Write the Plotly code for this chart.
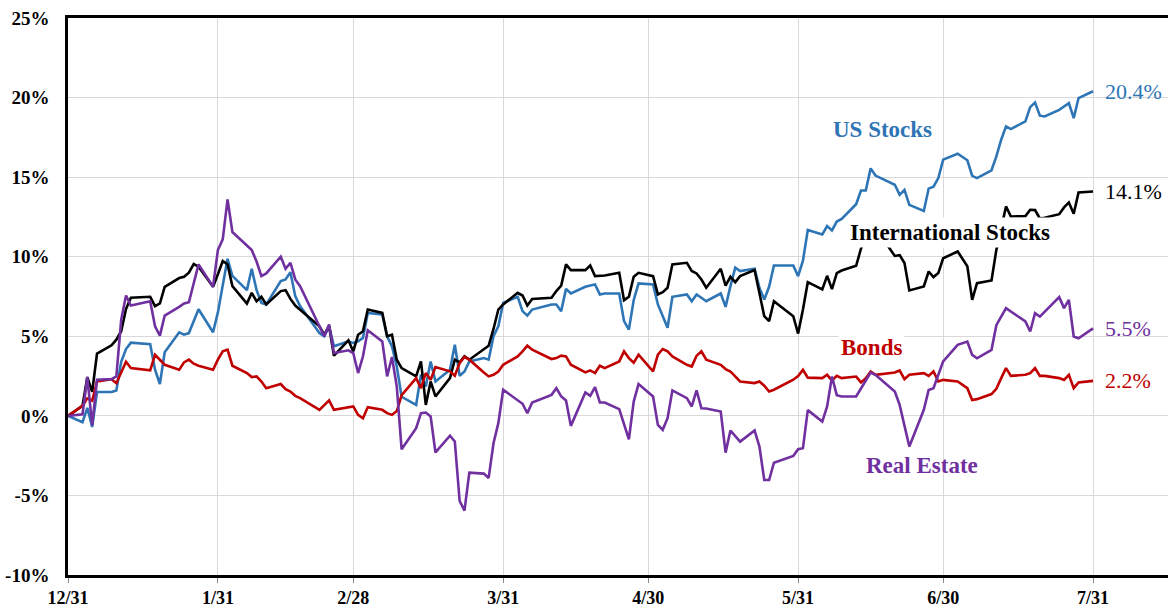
import plotly.graph_objects as go

dates = ["2022-12-31",
    "2023-01-03","2023-01-04","2023-01-05","2023-01-06","2023-01-09","2023-01-10","2023-01-11","2023-01-12","2023-01-13",
    "2023-01-17","2023-01-18","2023-01-19","2023-01-20","2023-01-23","2023-01-24","2023-01-25","2023-01-26","2023-01-27",
    "2023-01-30","2023-01-31",
    "2023-02-01","2023-02-02","2023-02-03","2023-02-06","2023-02-07","2023-02-08","2023-02-09","2023-02-10","2023-02-13",
    "2023-02-14","2023-02-15","2023-02-16","2023-02-17","2023-02-21","2023-02-22","2023-02-23","2023-02-24","2023-02-27",
    "2023-02-28",
    "2023-03-01","2023-03-02","2023-03-03","2023-03-06","2023-03-07","2023-03-08","2023-03-09","2023-03-10","2023-03-13",
    "2023-03-14","2023-03-15","2023-03-16","2023-03-17","2023-03-20","2023-03-21","2023-03-22","2023-03-23","2023-03-24",
    "2023-03-27","2023-03-28","2023-03-29","2023-03-30","2023-03-31",
    "2023-04-03","2023-04-04","2023-04-05","2023-04-06","2023-04-10","2023-04-11","2023-04-12","2023-04-13","2023-04-14",
    "2023-04-17","2023-04-18","2023-04-19","2023-04-20","2023-04-21","2023-04-24","2023-04-25","2023-04-26","2023-04-27",
    "2023-04-28",
    "2023-05-01","2023-05-02","2023-05-03","2023-05-04","2023-05-05","2023-05-08","2023-05-09","2023-05-10","2023-05-11",
    "2023-05-12","2023-05-15","2023-05-16","2023-05-17","2023-05-18","2023-05-19","2023-05-22","2023-05-23","2023-05-24",
    "2023-05-25","2023-05-26","2023-05-30","2023-05-31",
    "2023-06-01","2023-06-02","2023-06-05","2023-06-06","2023-06-07","2023-06-08","2023-06-09","2023-06-12","2023-06-13",
    "2023-06-14","2023-06-15","2023-06-16","2023-06-20","2023-06-21","2023-06-22","2023-06-23","2023-06-26","2023-06-27",
    "2023-06-28","2023-06-29","2023-06-30",
    "2023-07-03","2023-07-05","2023-07-06","2023-07-07","2023-07-10","2023-07-11","2023-07-12","2023-07-13","2023-07-14",
    "2023-07-17","2023-07-18","2023-07-19","2023-07-20","2023-07-21","2023-07-24","2023-07-25","2023-07-26","2023-07-27",
    "2023-07-28","2023-07-31"]

us_stocks = [0,
    -0.4, 0.5, -0.7, 1.5, 1.5, 1.6, 3.4, 4.2, 4.6, 4.5, 2.9, 2.0, 4.0, 5.25, 5.1, 5.2, 5.9, 6.7, 5.25, 6.5,
    8.2, 9.87, 8.8, 7.9, 9.24, 7.9, 7.1, 7.0, 8.47, 8.57, 9.03, 7.52, 6.9, 5.21, 5.0, 5.63, 4.37, 4.68, 4.58,
    4.68, 4.9, 6.47, 6.37, 5.0, 4.37, 3.1, 1.2, 0.69, 2.6, 1.85, 3.42, 2.16, 2.9, 4.47, 2.52, 2.79, 3.42, 3.63, 3.53,
    5.0, 5.63, 7.1,
    7.48, 6.58, 6.3, 6.68, 7.0, 7.0, 6.58, 7.98, 7.69, 8.11, 8.19, 8.26, 7.63, 7.69, 7.69, 5.95, 5.42, 7.27, 8.32,
    8.26, 7.0, 6.22, 5.53, 7.48, 7.63, 7.2, 7.63, 7.42, 7.2, 7.69, 6.85, 8.15, 9.31, 9.1, 9.24, 8.05, 7.31, 8.11,
    9.45, 9.45, 8.78,
    9.75, 11.68, 11.4, 11.93, 11.65, 12.21, 12.38, 13.3, 14.16, 14.16, 15.55, 15.1, 14.52, 13.89, 14.2, 13.26, 12.87,
    14.28, 14.4, 14.94, 16.1,
    16.47, 16.06, 15.08, 14.94, 15.43, 16.3, 17.35, 18.19, 18.02, 18.5, 19.4, 19.69, 18.86, 18.81, 19.23, 19.44, 19.65,
    18.71, 19.97, 20.4]

intl_stocks = [0,
    0.63, 2.44, 1.51, 3.91, 4.43, 4.79, 5.32, 6.72, 7.42, 7.48, 6.89, 7.06, 8.11, 8.66, 8.74, 9.0, 9.54, 9.37, 8.11, 8.9,
    9.73, 9.52, 8.15, 7.06, 7.73, 7.2, 7.48, 7.0, 7.84, 7.9, 7.35, 6.93, 6.68, 5.63, 5.1, 5.63, 3.78, 4.75, 4.05,
    5.1, 5.32, 6.68, 6.47, 5.0, 5.1, 3.53, 3.0, 2.48, 3.42, 0.69, 2.16, 1.22, 2.37, 3.53, 3.36, 3.74, 3.53, 4.16, 4.41,
    5.46, 6.68, 7.0,
    7.73, 7.56, 6.93, 7.35, 7.42, 7.84, 8.19, 9.52, 9.16, 9.16, 9.45, 8.78, 8.78, 8.82, 8.99, 7.27, 7.48, 8.74, 8.99,
    8.78, 7.63, 7.77, 8.05, 9.52, 9.62, 9.1, 8.95, 8.57, 8.05, 9.24, 8.19, 8.74, 8.4, 8.78, 9.16, 7.63, 6.26, 5.95,
    7.2, 6.26, 5.17,
    6.68, 8.4, 7.94, 8.8, 7.96, 8.97, 9.13, 9.43, 10.5, 11.2, 11.6, 11.8, 10.05, 10.1, 9.6, 7.88, 8.13, 9.07, 8.72,
    8.97, 9.9,
    10.33, 9.4, 7.29, 8.34, 8.51, 10.43, 11.8, 13.16, 12.53, 12.55, 12.95, 12.93, 12.4, 12.45, 12.67, 13.1, 13.41,
    12.7, 14.04, 14.1]

bonds = [0,
    0.63, 1.1, 0.95, 2.16, 2.3, 2.05, 2.69, 3.4, 3.0, 2.86, 3.84, 3.53, 3.21, 2.9, 3.36, 3.53, 3.28, 3.15, 2.9, 3.53,
    4.05, 4.16, 3.15, 2.69, 2.44, 2.48, 2.16, 1.74, 2.0, 1.68, 1.53, 1.26, 1.11, 0.38, 0.69, 0.97, 0.38, 0.53, 0.59,
    0.06, -0.15, 0.55, 0.38, 0.17, 0.06, 0.3, 1.3, 2.37, 1.74, 2.69, 2.27, 3.07, 2.8, 2.52, 3.32, 3.7, 3.53, 2.73, 2.48,
    2.58, 2.79, 3.21,
    3.74, 4.05, 4.41, 4.16, 3.57, 3.63, 3.78, 3.74, 3.21, 2.73, 2.86, 2.69, 3.15, 3.0, 3.42, 4.05, 3.63, 3.34, 3.84,
    2.79, 3.84, 4.2, 4.05, 3.74, 3.21, 3.1, 3.78, 4.05, 3.53, 3.21, 2.94, 2.79, 2.48, 2.16, 2.06, 2.16, 1.89, 1.53,
    1.64, 2.27, 2.5,
    2.89, 2.4, 2.37, 2.58, 2.22, 2.51, 2.37, 2.47, 2.1, 2.37, 2.79, 2.58, 2.72, 2.85, 2.3, 2.58, 2.68, 2.51, 2.79,
    2.16, 2.26,
    2.16, 1.74, 1.0, 1.05, 1.37, 1.7, 2.37, 3.0, 2.51, 2.58, 2.68, 3.0, 2.51, 2.51, 2.37, 2.26, 2.58, 1.74, 2.1, 2.2]

real_estate = [0,
    0.1, 2.44, -0.6, 2.27, 2.31, 2.48, 6.05, 7.56, 6.93, 7.2, 5.63, 5.04, 6.3, 6.85, 7.06, 7.14, 8.36, 9.52, 8.11, 10.42,
    11.09, 13.6, 11.55, 10.67, 10.42, 9.7, 8.78, 8.95, 10.0, 9.24, 9.62, 8.57, 8.15, 5.63, 5.0, 5.74, 3.95, 4.12, 3.95,
    2.69, 3.74, 5.38, 4.68, 2.48, 3.7, 1.84, -2.1, -0.78, 0.17, 0.21, -0.04, -2.3, -1.25, -1.61, -5.35, -5.95, -3.57,
    -3.63, -3.9, -1.72, -0.46, 1.64,
    0.97, 0.76, 0.17, 0.84, 1.32, 1.74, 1.22, 0.97, -0.63, 1.47, 1.26, 1.81, 0.84, 0.84, 0.42, -0.53, -1.47, 0.9, 2.0,
    1.22, -0.57, -0.88, -0.15, 1.6, 1.11, 0.59, 1.6, 0.48, 0.46, 0.27, -2.31, -0.92, -1.3, -1.62, -0.92, -1.93, -4.03,
    -4.03, -2.94, -2.52, -2.1,
    -2.03, 0.36, -0.36, 0.59, 2.47, 1.3, 1.22, 1.22, 1.74, 2.22, 2.72, 2.58, 1.53, 0.69, -0.67, -1.93, 0.38, 1.63, 1.74,
    2.58, 3.42,
    4.46, 4.67, 3.83, 3.62, 4.15, 5.7, 6.24, 6.77, 6.56, 5.93, 5.3, 6.45, 6.24, 6.56, 7.46, 6.77, 7.29, 4.99, 4.88, 5.5]

series_names = ["US Stocks", "International Stocks", "Bonds", "Real Estate"]
series_colors = ["#2E75B6", "#000000", "#C00000", "#7030A0"]

tick_dates = ["2022-12-31", "2023-01-31", "2023-02-28", "2023-03-31", "2023-04-30",
              "2023-05-31", "2023-06-30", "2023-07-31"]
tick_labels = ["12/31", "1/31", "2/28", "3/31", "4/30", "5/31", "6/30", "7/31"]
y_ticks = [-10, -5, 0, 5, 10, 15, 20, 25]
y_labels = ["-10%", "-5%", "0%", "5%", "10%", "15%", "20%", "25%"]

# label anchor points (date, value) for the in-chart series names
name_pos = {
    "US Stocks": ("2023-06-17 12:00", 18.0, None),
    "International Stocks": ("2023-07-01 08:00", 11.5, "white"),
    "Bonds": ("2023-06-15 04:00", 4.3, "white"),
    "Real Estate": ("2023-06-25 16:00", -3.15, None),
}
end_label_x = "2023-08-02 00:00"

FONT = "Liberation Serif"

fig = go.Figure()
all_series = [us_stocks, intl_stocks, bonds, real_estate]
for name, vals, col in zip(series_names, all_series, series_colors):
    fig.add_trace(go.Scatter(x=dates, y=vals, mode="lines", name=name,
                             line=dict(color=col, width=2.6), showlegend=False))

for name, vals, col in zip(series_names, all_series, series_colors):
    px_, py_, bg = name_pos[name]
    fig.add_annotation(x=px_, y=py_, text=name, showarrow=False,
                       font=dict(family=FONT, size=23, color=col, weight="bold"),
                       bgcolor=bg if bg else "rgba(0,0,0,0)", borderpad=2)
    fig.add_annotation(x=end_label_x, y=vals[-1], text=f"{vals[-1]:.1f}%", showarrow=False,
                       xanchor="left", font=dict(family=FONT, size=22, color=col))

fig.update_layout(
    width=1170, height=610,
    margin=dict(l=68, r=2, t=18, b=35),
    paper_bgcolor="white", plot_bgcolor="white",
    font=dict(family=FONT, color="black"),
)
fig.update_xaxes(
    type="date", range=["2022-12-31", "2023-08-15 12:00"], automargin=False,
    tickvals=tick_dates, ticktext=tick_labels,
    tickfont=dict(family=FONT, size=18, weight="bold", color="black"),
    showgrid=True, gridcolor="#D9D9D9", gridwidth=1,
    showline=True, linecolor="black", linewidth=2.5, mirror=True,
    ticks="outside", ticklen=5, tickcolor="#888888", tickwidth=1,
    ticklabelstandoff=0,
)
fig.update_yaxes(
    range=[-10, 25], tickvals=y_ticks, ticktext=y_labels, automargin=False,
    tickfont=dict(family=FONT, size=19, weight="bold", color="black"),
    showgrid=True, gridcolor="#D9D9D9", gridwidth=1, zeroline=False,
    showline=True, linecolor="black", linewidth=2.5,
    ticks="", ticklabelstandoff=12,
)

fig.write_html("out.html", config={"displayModeBar": False},
               post_script="document.body.style.margin='0';document.body.style.overflow='hidden';")
